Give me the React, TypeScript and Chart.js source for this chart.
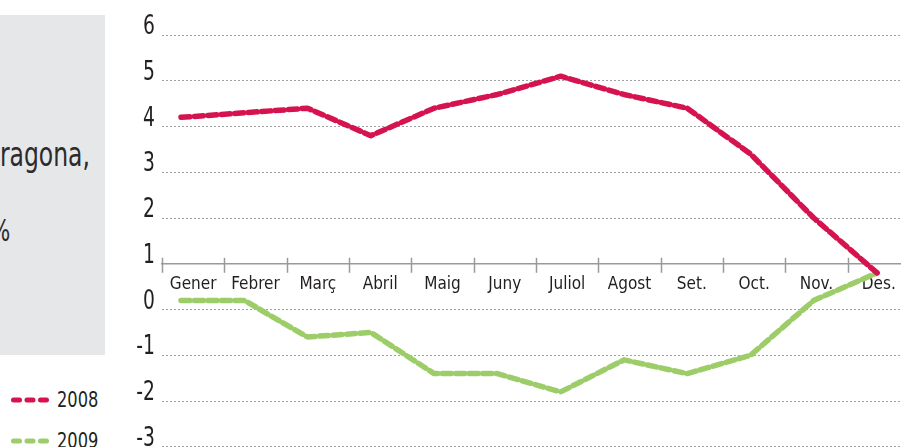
import React, { useEffect, useRef } from "react";
import { Chart, registerables } from "chart.js";

Chart.register(...registerables);

const months = ["Gener", "Febrer", "Març", "Abril", "Maig", "Juny", "Juliol", "Agost", "Set.", "Oct.", "Nov.", "Des."];
const values2008 = [4.2, 4.3, 4.4, 3.8, 4.4, 4.7, 5.1, 4.7, 4.4, 3.4, 2.0, 0.8];
const values2009 = [0.2, 0.2, -0.6, -0.5, -1.4, -1.4, -1.8, -1.1, -1.4, -1.0, 0.2, 0.8];
const seriesLabels = ["2008", "2009"];
const yMin = -3;
const yMax = 6;
const axisValue = 1;

const RED = "#d5134f";
const GREEN = "#9ccd68";
const TEXT = "#231f20";
const AXIS = "#9a9a9a";
const FONT = "'Liberation Sans Narrow', 'DejaVu Sans Condensed', sans-serif";

const axisTicks = {
  id: "axisTicks",
  beforeDatasetsDraw(chart: any) {
    const xs = chart.scales.x;
    const ys = chart.scales.y;
    const y0 = ys.getPixelForValue(axisValue);
    const ctx = chart.ctx;
    ctx.save();
    ctx.strokeStyle = AXIS;
    ctx.lineWidth = 1.5;
    for (let i = 0; i <= months.length; i++) {
      const x = Math.round(xs.getPixelForValue(i - 0.5)) + 0.5;
      ctx.beginPath();
      ctx.moveTo(x, y0 - 6);
      ctx.lineTo(x, y0 + 9);
      ctx.stroke();
    }
    ctx.restore();
  },
};

// draws the y scale's own tick labels in a condensed form
const condensedYLabels = {
  id: "condensedYLabels",
  afterDraw(chart: any) {
    const ys = chart.scales.y;
    const ctx = chart.ctx;
    ctx.save();
    ctx.fillStyle = TEXT;
    ctx.font = "27px " + FONT;
    ctx.textAlign = "right";
    ctx.textBaseline = "alphabetic";
    ys.ticks.forEach((t: any) => {
      const y = ys.getPixelForValue(t.value) - 1;
      ctx.save();
      ctx.translate(ys.right - 7, y);
      ctx.scale(0.77, 1);
      ctx.fillText(String(t.label), 0, 0);
      ctx.restore();
    });
    ctx.restore();
  },
};

function LegendItem({ color, label, top }: { color: string; label: string; top: number }) {
  return (
    <div style={{ position: "absolute", left: 0, top, height: 24, width: 110 }}>
      <svg width={50} height={24} style={{ position: "absolute", left: 0, top: 0 }}>
        <line x1={13.5} y1={12} x2={46.5} y2={12} stroke={color} strokeWidth={5} strokeDasharray="6 7.5" strokeLinecap="round" />
      </svg>
      <span style={{ position: "absolute", left: 57, top: -1, fontFamily: FONT, fontSize: 22, lineHeight: "26px", color: TEXT, transform: "scaleX(0.82)", transformOrigin: "0 0", whiteSpace: "nowrap" }}>{label}</span>
    </div>
  );
}

export default function App() {
  const ref = useRef<HTMLCanvasElement>(null);

  useEffect(() => {
    if (!ref.current) return;
    const chart = new Chart(ref.current, {
      type: "line",
      data: {
        datasets: [
          {
            label: seriesLabels[0],
            data: values2008.map((v, i) => ({ x: i, y: v })),
            borderColor: RED,
            backgroundColor: RED,
            borderWidth: 5.5,
            borderDash: [9, 4.5],
            borderCapStyle: "round",
            borderJoinStyle: "round",
            pointRadius: 0,
            tension: 0,
            xAxisID: "xd",
            yAxisID: "y",
          },
          {
            label: seriesLabels[1],
            data: values2009.map((v, i) => ({ x: i, y: v })),
            borderColor: GREEN,
            backgroundColor: GREEN,
            borderWidth: 5.5,
            borderDash: [9, 4.5],
            borderCapStyle: "round",
            borderJoinStyle: "round",
            pointRadius: 0,
            tension: 0,
            xAxisID: "xd",
            yAxisID: "y",
          },
        ],
      },
      options: {
        responsive: false,
        animation: false,
        devicePixelRatio: 1,
        layout: { padding: { top: 35, right: 2, bottom: 19, left: 0 } },
        plugins: { legend: { display: false }, tooltip: { enabled: false } },
        scales: {
          x: {
            type: "category",
            axis: "x",
            labels: months,
            position: { y: axisValue },
            offset: true,
            grid: { display: false, drawTicks: false },
            border: { display: true, color: AXIS, width: 1.5 },
            ticks: {
              font: { family: FONT, size: 17 },
              color: TEXT,
              padding: 11,
              maxRotation: 0,
              autoSkip: false,
            },
          },
          xd: {
            type: "linear",
            axis: "x",
            display: false,
            min: -0.3,
            max: 11.52,
          },
          y: {
            type: "linear",
            position: "left",
            min: yMin,
            max: yMax,
            afterFit: (scale: any) => {
              scale.width = 162;
            },
            ticks: {
              stepSize: 1,
              font: { family: FONT, size: 27 },
              color: "rgba(0,0,0,0)",
              padding: 7,
            },
            border: { display: false, dash: [2, 2] },
            grid: {
              drawTicks: false,
              lineWidth: 1,
              color: (c: any) => (c.tick && c.tick.value === axisValue ? "rgba(0,0,0,0)" : "#a0a0a0"),
            },
          },
        },
      },
      plugins: [axisTicks, condensedYLabels],
    } as any);
    return () => chart.destroy();
  }, []);

  return (
    <div style={{ position: "fixed", left: 0, top: 0, width: 901, height: 447, overflow: "hidden", background: "#fff" }}>
      <div style={{ position: "absolute", left: 0, top: 15, width: 105, height: 340, background: "#e6e7e8", overflow: "hidden" }}>
        <div style={{ position: "absolute", right: 15, top: 121, fontFamily: FONT, fontSize: 33, lineHeight: "38px", color: "#2b2b2b", whiteSpace: "nowrap", transform: "scaleX(0.79)", transformOrigin: "100% 0" }}>ragona,</div>
        <div style={{ position: "absolute", left: -10, top: 199, fontFamily: FONT, fontSize: 30, lineHeight: "34px", color: "#2b2b2b", whiteSpace: "nowrap", transform: "scaleX(0.79)", transformOrigin: "0 0" }}>%</div>
      </div>
      <LegendItem color={RED} label={seriesLabels[0]} top={388} />
      <LegendItem color={GREEN} label={seriesLabels[1]} top={429} />
      <canvas ref={ref} width={912} height={470} style={{ position: "absolute", left: 0, top: 0, width: 912, height: 470 }} />
    </div>
  );
}
